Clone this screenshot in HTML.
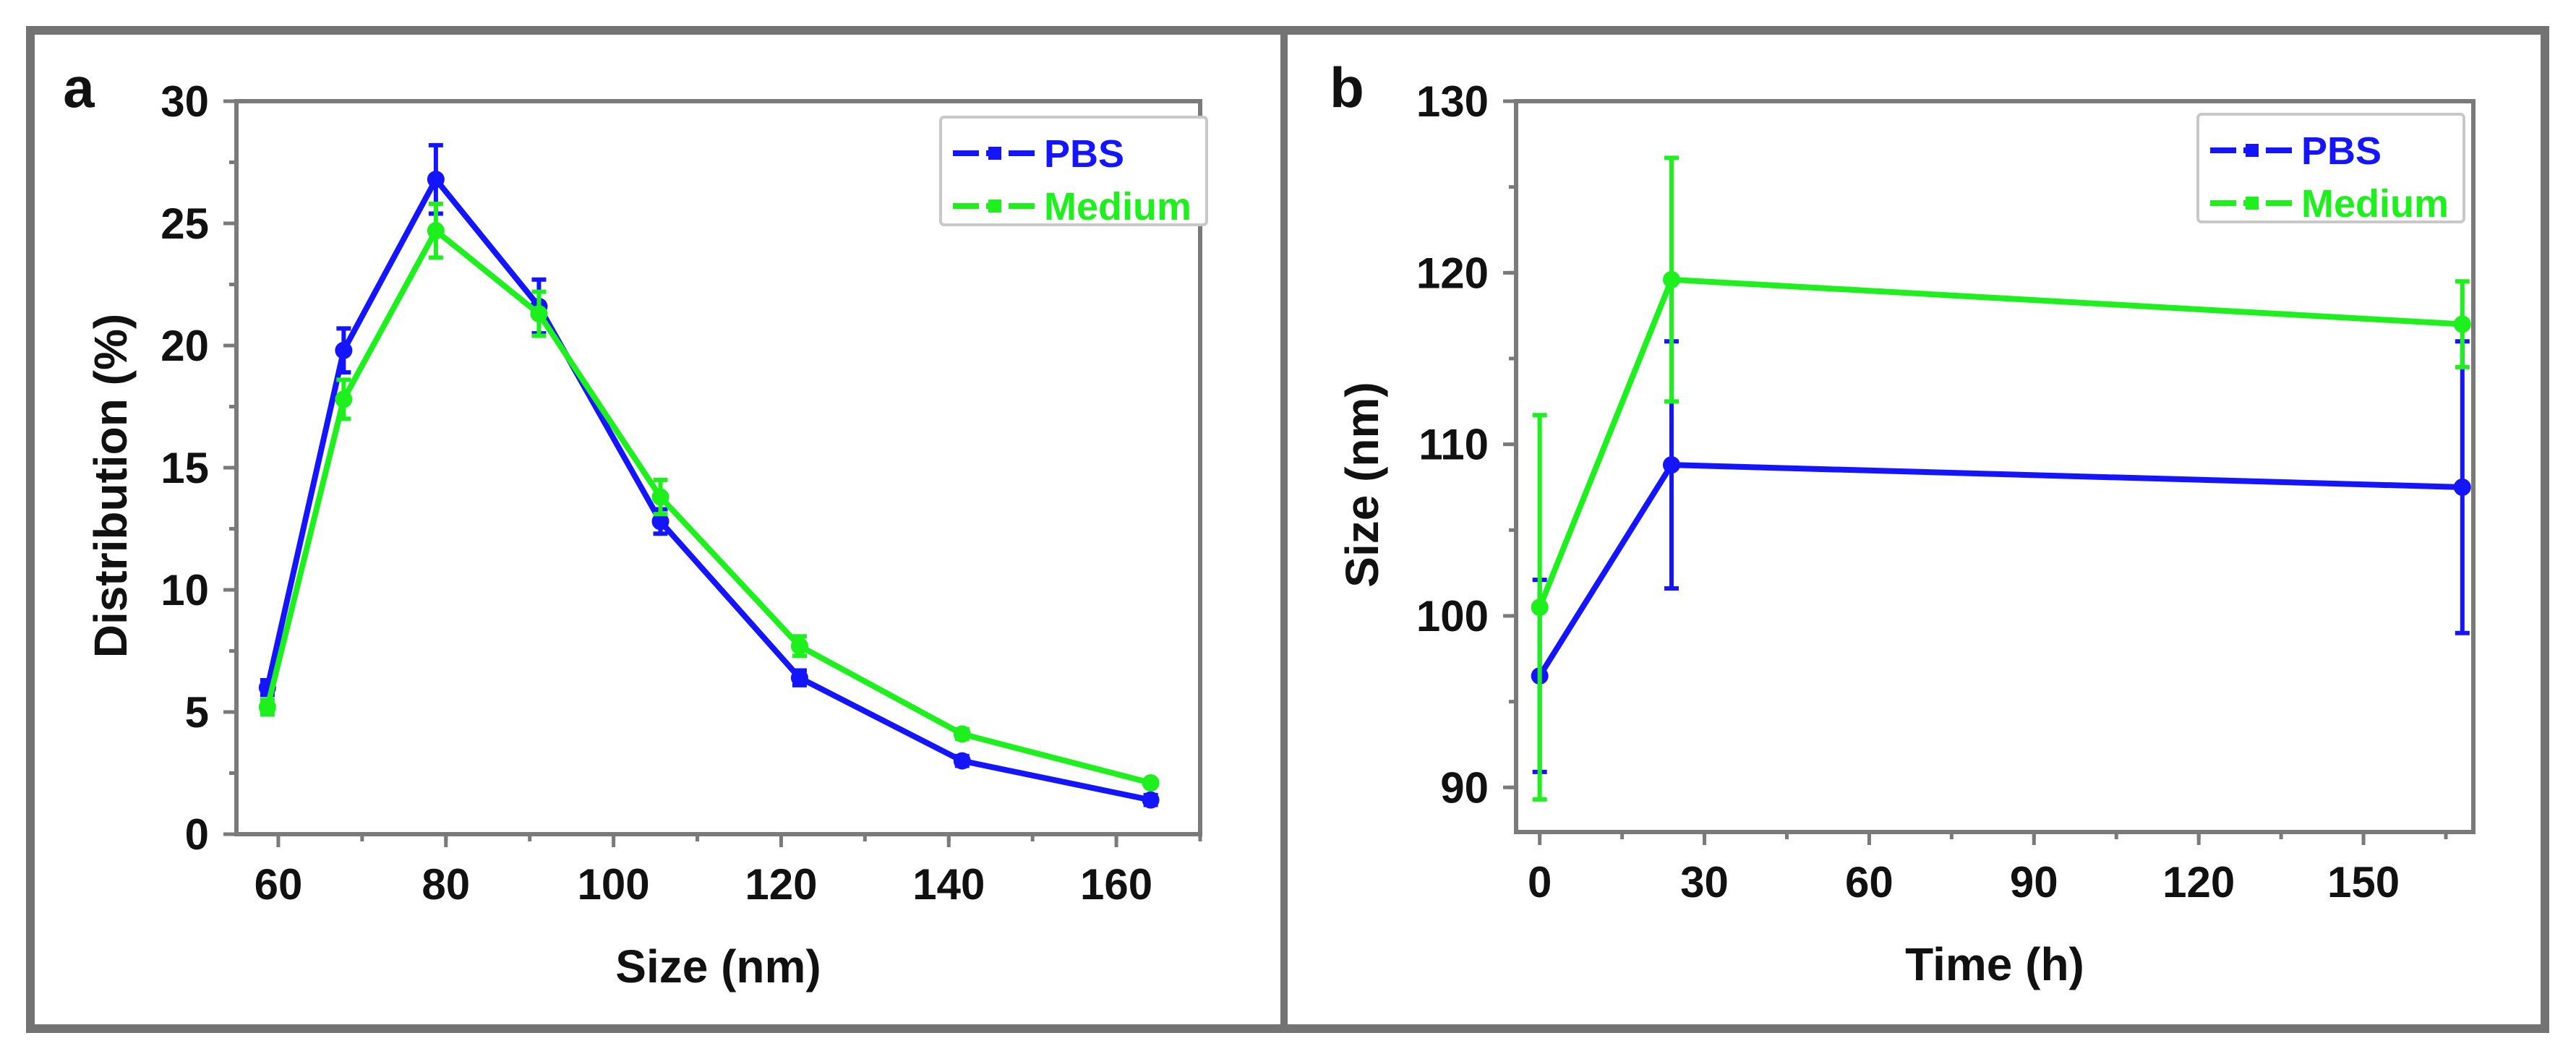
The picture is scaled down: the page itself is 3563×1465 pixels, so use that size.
<!DOCTYPE html>
<html><head><meta charset="utf-8"><style>
html,body{margin:0;padding:0;background:#fff;}
svg{display:block;font-family:"Liberation Sans",Arial,sans-serif;font-weight:bold;}
</style></head><body>
<svg id="fig" width="3563" height="1465" viewBox="0 0 3563 1465" xmlns="http://www.w3.org/2000/svg">
<rect x="42" y="42" width="3478" height="1381" fill="none" stroke="#737373" stroke-width="12"/>
<line x1="1776" y1="42" x2="1776" y2="1423" stroke="#737373" stroke-width="10"/>
<g id="pa"></g>
<g id="pb"></g>
</svg>
<script>
// Panel a data
const aSizes = [58.7, 67.8, 78.8, 91.1, 105.6, 122.2, 141.6, 164.1];
const aPBS = [6.0, 19.8, 26.8, 21.6, 12.8, 6.4, 3.0, 1.4];
const aPBSErr = [0.3, 0.9, 1.4, 1.1, 0.5, 0.3, 0.2, 0.2];
const aMed = [5.2, 17.8, 24.7, 21.3, 13.8, 7.7, 4.1, 2.1];
const aMedErr = [0.3, 0.8, 1.1, 0.9, 0.7, 0.4, 0.2, 0.1];
const aXTicks = [60, 80, 100, 120, 140, 160];
const aYTicks = [0, 5, 10, 15, 20, 25, 30];
// Panel b data
const bTimes = [0, 24, 168];
const bPBS = [96.5, 108.8, 107.5];
const bPBSErr = [5.6, 7.2, 8.5];
const bMed = [100.5, 119.6, 117.0];
const bMedErr = [11.2, 7.1, 2.5];
const bXTicks = [0, 30, 60, 90, 120, 150];
const bYTicks = [90, 100, 110, 120, 130];

const NS = "http://www.w3.org/2000/svg";
function mk(parent, tag, attrs, text){
  const e = document.createElementNS(NS, tag);
  for (const k in attrs) e.setAttribute(k, attrs[k]);
  if (text !== undefined) e.textContent = text;
  parent.appendChild(e);
  return e;
}
const BLUE = "#1414ff", GREEN = "#1ef01e", AX = "#7a7a7a";

function panel(g, cfg){
  const sx = v => cfg.L + (v - cfg.x0) / (cfg.x1 - cfg.x0) * (cfg.R - cfg.L);
  const sy = v => cfg.B - (v - cfg.y0) / (cfg.y1 - cfg.y0) * (cfg.B - cfg.T);
  const frame = mk(g, "rect", {x: cfg.L, y: cfg.T, width: cfg.R - cfg.L, height: cfg.B - cfg.T, fill: "none", stroke: AX, "stroke-width": 6});
  
  
  // x ticks
  cfg.xTicks.forEach(t => {
    const tk = mk(g, "line", {x1: sx(t), x2: sx(t), y1: cfg.B, y2: cfg.B + 18, stroke: AX, "stroke-width": 5});
    
    
    const lb = mk(g, "text", {x: sx(t), y: cfg.B + 90, "text-anchor": "middle", "font-size": 60, fill: "#111"}, String(t));
    
    
  });
  for (let v = cfg.xTicks[0] - cfg.xMinor; v <= cfg.x1; v += cfg.xMinor) {
    if (v < cfg.x0) continue;
    const mt = mk(g, "line", {x1: sx(v), x2: sx(v), y1: cfg.B, y2: cfg.B + 10, stroke: AX, "stroke-width": 5});
    
    
  }
  cfg.yTicks.forEach(t => {
    const tk = mk(g, "line", {x1: cfg.L - 18, x2: cfg.L, y1: sy(t), y2: sy(t), stroke: AX, "stroke-width": 5});
    
    
    const lb = mk(g, "text", {x: cfg.L - 38, y: sy(t) + 21, "text-anchor": "end", "font-size": 60, fill: "#111"}, String(t));
    
    
  });
  for (let v = cfg.yTicks[0] - cfg.yMinor; v <= cfg.y1; v += cfg.yMinor) {
    if (v < cfg.y0) continue;
    const mt = mk(g, "line", {x1: cfg.L - 10, x2: cfg.L, y1: sy(v), y2: sy(v), stroke: AX, "stroke-width": 5});
    
    
  }
  // axis titles
  const xt = mk(g, "text", {x: (cfg.L + cfg.R) / 2, y: cfg.B + 205, "text-anchor": "middle", "font-size": 64, fill: "#111"}, cfg.xTitle);
  
  
  const yt = mk(g, "text", {x: 0, y: 0, "text-anchor": "middle", "font-size": 64, fill: "#111", transform: `translate(${cfg.ytX},${(cfg.T + cfg.B) / 2 + 25}) rotate(-90)`}, cfg.yTitle);
  
  
  const pl = mk(g, "text", {x: cfg.letterX, y: 148, "text-anchor": "middle", "font-size": 78, fill: "#111"}, cfg.letter);
  
  
  // series
  cfg.series.forEach(s => {
    const sg = mk(g, "g", {});
    
    
    const pts = s.x.map((x, i) => sx(x) + "," + sy(s.y[i])).join(" ");
    const ln = mk(sg, "polyline", {points: pts, fill: "none", stroke: s.color, "stroke-width": 8, "stroke-linejoin": "round"});
    
    
    s.x.forEach((x, i) => {
      const cx = sx(x), hi = sy(s.y[i] + s.e[i]), lo = sy(s.y[i] - s.e[i]);
      const eb = mk(sg, "path", {d: `M${cx},${hi}V${lo}M${cx - 10},${hi}H${cx + 10}M${cx - 10},${lo}H${cx + 10}`, stroke: s.color, "stroke-width": 6, fill: "none"});
      
      
      const mkr = mk(sg, "circle", {cx: cx, cy: sy(s.y[i]), r: 12, fill: s.color});
      
      
    });
  });
  // legend
  const lg = mk(g, "g", {});
  
  
  mk(lg, "rect", {x: cfg.lx, y: cfg.ly, width: 368, height: 149, rx: 5, fill: "#fff", stroke: "#c8c8c8", "stroke-width": 4});
  cfg.series.forEach((s, i) => {
    const y = cfg.ly + 50 + i * 73;
    const en = mk(lg, "g", {});
    
    
    mk(en, "line", {x1: cfg.lx + 17, x2: cfg.lx + 130, y1: y, y2: y, stroke: s.color, "stroke-width": 8, "stroke-dasharray": "36 10 " + "21 10 36"});
    mk(en, "rect", {x: cfg.lx + 66, y: y - 9, width: 18, height: 18, fill: s.color});
    mk(en, "text", {x: cfg.lx + 143, y: y + 19, "font-size": 54, fill: s.color}, s.name);
  });
}

panel(document.getElementById("pa"), {
  L: 327, R: 1660, T: 140, B: 1154, x0: 55, x1: 170, y0: 0, y1: 30,
  xTicks: aXTicks, yTicks: aYTicks, xMinor: 10, yMinor: 2.5,
  xTitle: "Size (nm)", yTitle: "Distribution (%)", ytX: 175, letter: "a", letterX: 109,
  lx: 1301, ly: 162,
  series: [
    {name: "PBS", x: aSizes, y: aPBS, e: aPBSErr, color: BLUE},
    {name: "Medium", x: aSizes, y: aMed, e: aMedErr, color: GREEN}
  ]
});
panel(document.getElementById("pb"), {
  L: 2097, R: 3421, T: 140, B: 1151, x0: -4.3, x1: 170, y0: 87.4, y1: 130,
  xTicks: bXTicks, yTicks: bYTicks, xMinor: 15, yMinor: 5,
  xTitle: "Time (h)", yTitle: "Size (nm)", ytX: 1906, letter: "b", letterX: 1863,
  lx: 3040, ly: 158,
  series: [
    {name: "PBS", x: bTimes, y: bPBS, e: bPBSErr, color: BLUE},
    {name: "Medium", x: bTimes, y: bMed, e: bMedErr, color: GREEN}
  ]
});
</script>
</body></html>
